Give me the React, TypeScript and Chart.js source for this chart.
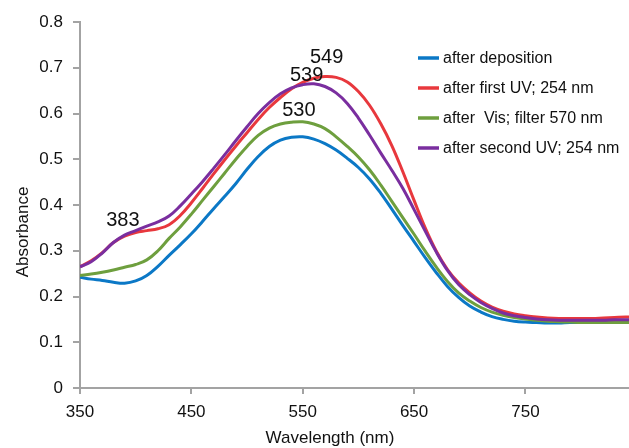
import React, { useEffect, useRef } from 'react';
import { Chart, registerables } from 'chart.js';

Chart.register(...registerables);

const FONT = "'Liberation Sans', Arial, Helvetica, sans-serif";

// Wavelength grid (nm) as plotted on the axis
const wavelengths = [
  350, 360, 370, 380, 390, 400, 410, 420, 430, 440,
  450, 460, 470, 480, 490, 500, 510, 520, 530, 540,
  550, 560, 570, 580, 590, 600, 610, 620, 630, 640,
  650, 660, 670, 680, 690, 700, 710, 720, 730, 740,
  750, 760, 770, 780, 790, 800, 810, 820, 830, 840, 850,
];

const afterDeposition = [
  0.242, 0.238, 0.235, 0.231, 0.229, 0.234, 0.246, 0.266, 0.290, 0.313,
  0.337, 0.364, 0.392, 0.419, 0.447, 0.478, 0.506, 0.528, 0.542, 0.548,
  0.549, 0.544, 0.534, 0.520, 0.502, 0.482, 0.457, 0.426, 0.391, 0.355,
  0.320, 0.285, 0.252, 0.222, 0.198, 0.179, 0.166, 0.156, 0.150, 0.146,
  0.144, 0.143, 0.142, 0.142, 0.143, 0.143, 0.144, 0.144, 0.145, 0.146, 0.146,
];

const afterFirstUV = [
  0.265, 0.278, 0.296, 0.318, 0.332, 0.340, 0.344, 0.348, 0.357, 0.377,
  0.405, 0.436, 0.468, 0.499, 0.529, 0.558, 0.587, 0.613, 0.635, 0.654,
  0.668, 0.677, 0.681, 0.679, 0.669, 0.648, 0.618, 0.578, 0.530, 0.472,
  0.410, 0.350, 0.299, 0.259, 0.230, 0.208, 0.190, 0.177, 0.168, 0.162,
  0.158, 0.155, 0.153, 0.152, 0.152, 0.152, 0.152, 0.153, 0.154, 0.155, 0.155,
];

const afterVis = [
  0.246, 0.249, 0.253, 0.258, 0.264, 0.270, 0.280, 0.300, 0.327, 0.352,
  0.380, 0.410, 0.440, 0.470, 0.500, 0.528, 0.552, 0.568, 0.577, 0.581,
  0.582, 0.577, 0.567, 0.549, 0.528, 0.505, 0.477, 0.444, 0.408, 0.372,
  0.336, 0.299, 0.264, 0.233, 0.208, 0.190, 0.176, 0.166, 0.159, 0.154,
  0.151, 0.148, 0.146, 0.145, 0.144, 0.143, 0.143, 0.143, 0.143, 0.143, 0.143,
];

const afterSecondUV = [
  0.265, 0.276, 0.295, 0.318, 0.334, 0.344, 0.354, 0.363, 0.376, 0.398,
  0.424, 0.451, 0.480, 0.510, 0.541, 0.571, 0.600, 0.624, 0.643, 0.656,
  0.663, 0.665, 0.659, 0.645, 0.622, 0.590, 0.553, 0.514, 0.476, 0.436,
  0.390, 0.343, 0.297, 0.257, 0.226, 0.204, 0.187, 0.174, 0.164, 0.158,
  0.154, 0.151, 0.149, 0.148, 0.148, 0.148, 0.148, 0.148, 0.149, 0.149, 0.149,
];

const seriesNames = [
  'after deposition',
  'after first UV; 254 nm',
  'after  Vis; filter 570 nm',
  'after second UV; 254 nm',
];
const seriesValues = [afterDeposition, afterFirstUV, afterVis, afterSecondUV];
const seriesColors = ['#0B78C6', '#E8383D', '#6E9F3E', '#7A2E9F'];

const xTicks = [350, 450, 550, 650, 750];
const yTicks = [0, 0.1, 0.2, 0.3, 0.4, 0.5, 0.6, 0.7, 0.8];

// Peak annotations (text, anchor wavelength, anchor absorbance)
const peakLabels = ['549', '539', '530', '383'];
const peakLabelX = [571.5, 553.5, 546.5, 388.5];
const peakLabelY = [0.723, 0.684, 0.607, 0.367];

const xTitle = 'Wavelength (nm)';
const yTitle = 'Absorbance';

const overlayPlugin = {
  id: 'overlay',
  afterDatasetsDraw(chart: any) {
    const ctx = chart.ctx as CanvasRenderingContext2D;
    const xs = chart.scales.x;
    const ys = chart.scales.y;
    const area = chart.chartArea;
    ctx.save();

    // peak labels
    ctx.font = `20px ${FONT}`;
    ctx.fillStyle = '#111111';
    ctx.textAlign = 'center';
    ctx.textBaseline = 'middle';
    peakLabels.forEach((t, i) => {
      ctx.fillText(t, xs.getPixelForValue(peakLabelX[i]), ys.getPixelForValue(peakLabelY[i]));
    });

    // legend
    const lx = area.left + 338;
    const ly = area.top + 36;
    const rowH = 30;
    ctx.font = `16px ${FONT}`;
    ctx.textAlign = 'left';
    ctx.textBaseline = 'middle';
    seriesNames.forEach((name, i) => {
      const yy = ly + i * rowH;
      ctx.strokeStyle = seriesColors[i];
      ctx.lineWidth = 3.5;
      ctx.lineCap = 'butt';
      ctx.beginPath();
      ctx.moveTo(lx, yy);
      ctx.lineTo(lx + 21, yy);
      ctx.stroke();
      ctx.fillStyle = '#111111';
      ctx.fillText(name, lx + 25, yy + 1);
    });

    // axis titles
    ctx.font = `17px ${FONT}`;
    ctx.fillStyle = '#111111';
    ctx.textAlign = 'center';
    ctx.textBaseline = 'alphabetic';
    ctx.fillText(xTitle, 330, 443);
    ctx.translate(28, 232);
    ctx.rotate(-Math.PI / 2);
    ctx.fillText(yTitle, 0, 0);

    ctx.restore();
  },
};

export default function App() {
  const canvasRef = useRef<HTMLCanvasElement | null>(null);

  useEffect(() => {
    document.body.style.margin = '0';
    const canvas = canvasRef.current;
    if (!canvas) return;

    const order = [4, 3, 2, 1];
    const datasets = seriesNames.map((name, i) => ({
      label: name,
      data: wavelengths.map((w, j) => ({ x: w, y: seriesValues[i][j] })),
      borderColor: seriesColors[i],
      backgroundColor: seriesColors[i],
      borderWidth: 3,
      pointRadius: 0,
      tension: 0.4,
      fill: false,
      order: order[i],
    }));

    const axisGray = '#A3A3A3';

    const chart = new Chart(canvas, {
      type: 'line',
      data: { datasets },
      plugins: [overlayPlugin],
      options: {
        animation: false,
        responsive: false,
        maintainAspectRatio: false,
        layout: { padding: { top: 22, right: 0, left: 0, bottom: 0 } },
        plugins: {
          legend: { display: false },
          tooltip: { enabled: false },
        },
        scales: {
          x: {
            type: 'linear',
            min: 350,
            max: 843,
            afterBuildTicks: (scale: any) => {
              scale.ticks = xTicks.map((v) => ({ value: v }));
            },
            afterFit: (scale: any) => {
              scale.height = 60;
            },
            ticks: {
              color: '#111111',
              font: { family: FONT, size: 17 },
              padding: 8,
              maxRotation: 0,
              autoSkip: false,
              callback: (v: any) => String(v),
            },
            grid: {
              display: true,
              drawOnChartArea: false,
              drawTicks: true,
              tickLength: 6,
              tickColor: axisGray,
              lineWidth: 2,
              color: axisGray,
            },
            border: { display: true, color: axisGray, width: 2 },
          },
          y: {
            type: 'linear',
            min: 0,
            max: 0.8,
            afterBuildTicks: (scale: any) => {
              scale.ticks = yTicks.map((v) => ({ value: v }));
            },
            afterFit: (scale: any) => {
              scale.width = 80;
            },
            ticks: {
              color: '#111111',
              font: { family: FONT, size: 17 },
              padding: 10,
              autoSkip: false,
              callback: (v: any) => (Number(v) === 0 ? '0' : Number(v).toFixed(1)),
            },
            grid: {
              display: true,
              drawOnChartArea: false,
              drawTicks: true,
              tickLength: 7,
              tickColor: axisGray,
              lineWidth: 2,
              color: axisGray,
            },
            border: { display: true, color: axisGray, width: 2 },
          },
        },
      },
    });

    return () => {
      chart.destroy();
    };
  }, []);

  return (
    <div style={{ width: 629, height: 448, background: '#ffffff' }}>
      <canvas ref={canvasRef} width={629} height={448} style={{ display: 'block' }} />
    </div>
  );
}
